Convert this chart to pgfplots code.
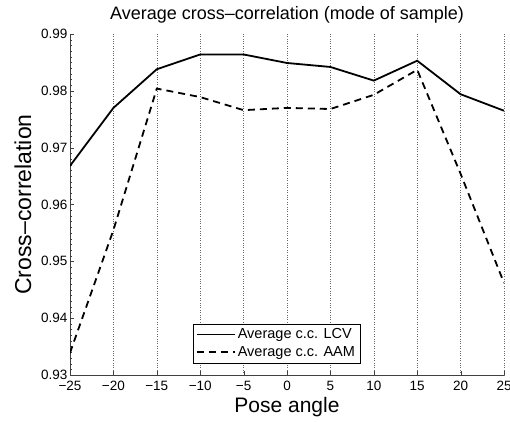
\documentclass[border=0pt]{standalone}
\usepackage{pgfplots}
\pgfplotsset{compat=1.18}
\usepackage{fontspec}
\setmainfont{Liberation Sans}
\begin{document}
\begin{tikzpicture}
\begin{axis}[
  at={(70pt,46pt)}, anchor=south west,
  scale only axis, width=434pt, height=341pt,
  xmin=-25, xmax=25, ymin=0.93, ymax=0.99,
  axis lines*=left,
  axis line style={black!75, line width=0.6pt},
  tick align=inside,
  major tick length=4pt, minor tick length=2pt,
  tick style={black!75},
  xtick={-25,-20,...,25},
  xticklabels={−25,−20,−15,−10,−5,0,5,10,15,20,25},
  ytick={0.93,0.94,0.95,0.96,0.97,0.98,0.99},
  yticklabels={0.93,0.94,0.95,0.96,0.97,0.98,0.99},
  minor y tick num=9,
  xmajorgrids, grid style={black!60, dotted, line width=0.5pt},
  ticklabel style={font=\fontsize{13.5}{15}\selectfont},
  xticklabel style={yshift=-3pt},
  yticklabel style={xshift=1pt},
  title={Average cross–correlation (mode of sample)},
  title style={at={(axis description cs:0.5,1.04)}, anchor=center,
    font=\fontsize{18}{20}\selectfont},
  xlabel={Pose angle}, ylabel={Cross–correlation},
  xlabel style={at={(axis description cs:0.5,-0.0953)}, anchor=center,
    font=\fontsize{21}{23}\selectfont},
  ylabel style={at={(axis description cs:-0.1083,0.5)}, anchor=center,
    font=\fontsize{23}{25}\selectfont},
  legend style={at={(0.283,0.035)}, anchor=south west, draw=black,
    font=\fontsize{14.5}{16}\selectfont, inner sep=3pt, row sep=2pt},
  legend cell align=left,
  legend image code/.code={\draw[#1] (0pt,0pt) -- (38pt,0pt);},
]
\addplot[black, line width=1.8pt] coordinates {
  (-25,0.9668) (-20,0.9770) (-15,0.9838) (-10,0.9864) (-5,0.9864)
  (0,0.9849) (5,0.9842) (10,0.9818) (15,0.9853) (20,0.9794) (25,0.9765)};
\addlegendentry{Average c.c. LCV}
\addplot[black, line width=1.8pt, dash pattern=on 7pt off 5pt] coordinates {
  (-25,0.9339) (-20,0.9555) (-15,0.9804) (-10,0.9789) (-5,0.9766)
  (0,0.9770) (5,0.9768) (10,0.9793) (15,0.9837) (20,0.9654) (25,0.9462)};
\addlegendentry{Average c.c. AAM}
\end{axis}
\pgfresetboundingbox
\path[use as bounding box] (0pt,0pt) rectangle (510pt,421pt);
\end{tikzpicture}
\end{document}
